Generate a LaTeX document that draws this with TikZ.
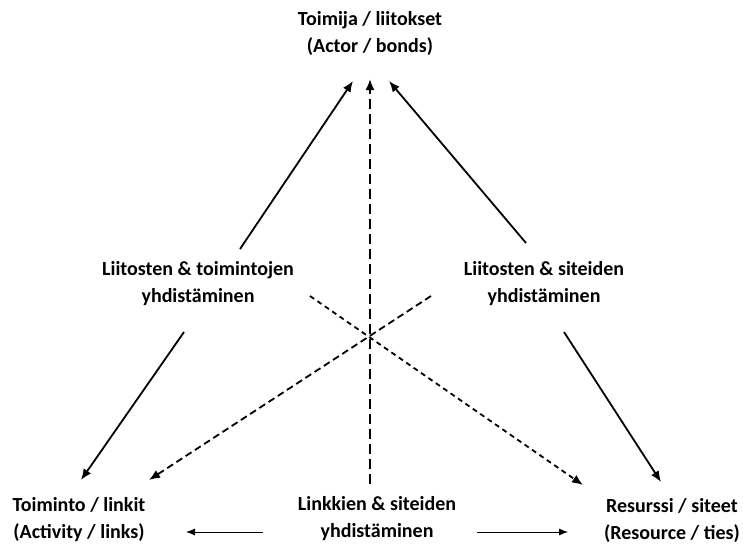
\documentclass[tikz,border=0pt]{standalone}
\usepackage{fontspec}
\setmainfont{Carlito}
\usetikzlibrary{arrows.meta}
\begin{document}
\begin{tikzpicture}[x=1pt,y=-1pt,
  lbl/.style={font=\bfseries\fontsize{20}{27}\selectfont, align=center, inner sep=0pt},
  thick arrow/.style={line width=1.8pt, -{Latex[length=11pt,width=9pt]}},
  thin arrow/.style={line width=0.8pt, -{Latex[length=9pt,width=7pt]}},
  longdash/.style={dash pattern=on 10pt off 5pt},
  middash/.style={dash pattern=on 7pt off 4pt},
  shortdash/.style={dash pattern=on 5pt off 4pt}]
\useasboundingbox (0,0) rectangle (743,544);
\node[lbl] (actor) at (370,33) {Toimija / liitokset\\(Actor / bonds)};
\node[lbl] (activity) at (79,520) {Toiminto / linkit\\(Activity / links)};
\node[lbl] (links) at (377,519) {Linkkien \& siteiden\\yhdistäminen};
\node[lbl] (resource) at (672,520) {Resurssi / siteet\\(Resource / ties)};
\node[lbl] (bondsact) at (198,284) {Liitosten \& toimintojen\\yhdistäminen};
\node[lbl] (bondsties) at (544,284) {Liitosten \& siteiden\\yhdistäminen};

\coordinate (a1s) at (240,249); \coordinate (a1e) at (353,81);
\coordinate (a2s) at (370,484); \coordinate (a2e) at (370,79);
\coordinate (a3s) at (526,243); \coordinate (a3e) at (389,81);
\coordinate (a4s) at (184,332); \coordinate (a4e) at (81,480);
\coordinate (a5s) at (564,332); \coordinate (a5e) at (661,482);
\coordinate (a6s) at (431,296); \coordinate (a6e) at (149,480);
\coordinate (a7s) at (310,296); \coordinate (a7e) at (583,485);
\coordinate (a8s) at (263,532); \coordinate (a8e) at (186,532);
\coordinate (a9s) at (477,532); \coordinate (a9e) at (568,532);

\draw[thick arrow] (a1s) -- (a1e);
\draw[thick arrow, longdash] (a2s) -- (a2e);
\draw[thick arrow] (a3s) -- (a3e);
\draw[thick arrow] (a4s) -- (a4e);
\draw[thick arrow] (a5s) -- (a5e);
\draw[thick arrow, middash] (a6s) -- (a6e);
\draw[thick arrow, shortdash] (a7s) -- (a7e);
\draw[thin arrow] (a8s) -- (a8e);
\draw[thin arrow] (a9s) -- (a9e);
\end{tikzpicture}
\end{document}
